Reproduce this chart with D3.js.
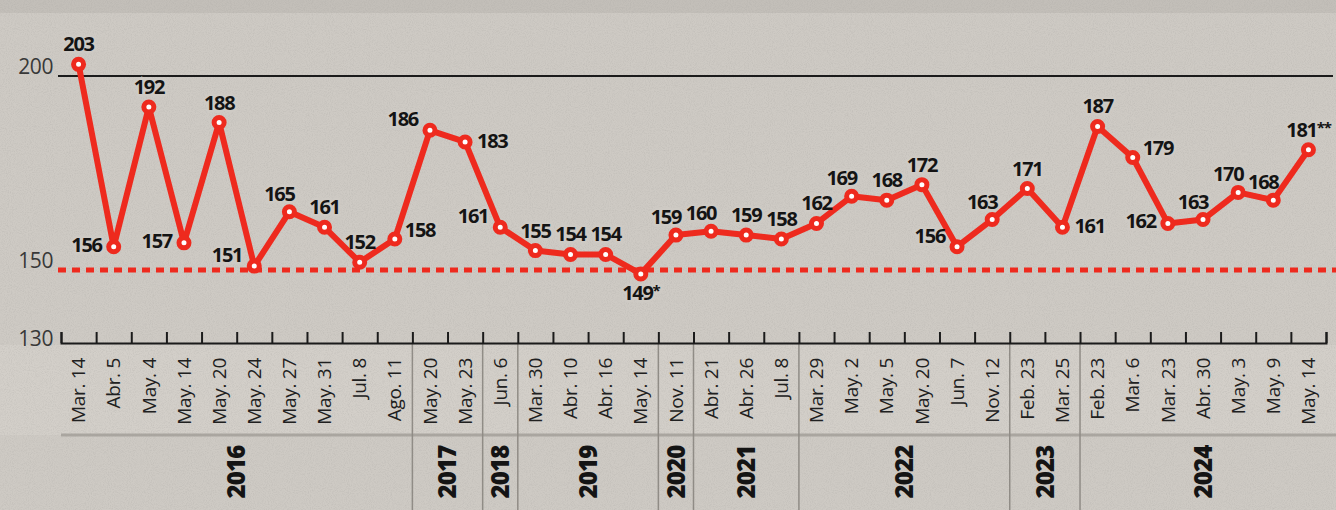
<!DOCTYPE html>
<meta charset="utf-8">
<style>
body { margin: 0; background: #cecac4; }
svg { display: block; }
.val { font-family: "Open Sans"; font-weight: 700; font-size: 20px; letter-spacing: -1.3px; fill: #141414; }
.halo { font-family: "Open Sans"; font-weight: 700; font-size: 20px; letter-spacing: -1.3px; fill: none; stroke: #cecac4; stroke-width: 5px; }
.date { font-family: "Open Sans"; font-size: 19px; letter-spacing: -0.3px; fill: #202020; }
.year { font-family: "Open Sans"; font-weight: 800; font-size: 24px; letter-spacing: -0.8px; fill: #141414; }
.ytick { font-family: "Open Sans"; font-size: 21px; fill: #383838; letter-spacing: -0.4px; }
</style>
<svg width="1336" height="510"></svg>
<script src="https://d3js.org/d3.v7.min.js"></script>
<script>

var dates = ["Mar. 14", "Abr. 5", "May. 4", "May. 14", "May. 20", "May. 24", "May. 27", "May. 31", "Jul. 8", "Ago. 11",
             "May. 20", "May. 23",
             "Jun. 6",
             "Mar. 30", "Abr. 10", "Abr. 16", "May. 14",
             "Nov. 11",
             "Abr. 21", "Abr. 26", "Jul. 8",
             "Mar. 29", "May. 2", "May. 5", "May. 20", "Jun. 7", "Nov. 12",
             "Feb. 23", "Mar. 25",
             "Feb. 23", "Mar. 6", "Mar. 23", "Abr. 30", "May. 3", "May. 9", "May. 14"];

var years = ["2016", "2016", "2016", "2016", "2016", "2016", "2016", "2016", "2016", "2016",
             "2017", "2017",
             "2018",
             "2019", "2019", "2019", "2019",
             "2020",
             "2021", "2021", "2021",
             "2022", "2022", "2022", "2022", "2022", "2022",
             "2023", "2023",
             "2024", "2024", "2024", "2024", "2024", "2024", "2024"];

var values = [203, 156, 192, 157, 188, 151, 165, 161, 152, 158,
              186, 183,
              161,
              155, 154, 154, 149,
              159,
              160, 159, 158,
              162, 169, 168, 172, 156, 163,
              171, 161,
              187, 179, 162, 163, 170, 168, 181];

var notes = ["", "", "", "", "", "", "", "", "", "", "", "", "", "", "", "", "*", "", "",
             "", "", "", "", "", "", "", "", "", "", "", "", "", "", "", "", "**"];

// where each value label sits around its point
var labelAt = ["t", "l", "t", "l", "t", "lu", "tl", "t", "t", "ru",
               "lu", "r",
               "lu",
               "t", "t", "t", "b",
               "tl",
               "tl", "t", "t",
               "t", "tl", "t", "t", "lu", "tl",
               "t", "r",
               "t", "ru", "l", "tl", "tl", "tl", "t"];

var refLines = [200, 150];

var svg = d3.select("svg"),
    width = +svg.attr("width"),
    height = +svg.attr("height");

var axisY = 343, bandTop = 435, dateTop = 358, yearMid = 472;

var idx = d3.range(values.length);
var x = d3.scaleBand().domain(idx).range([61, 1326]);
var edge = d3.scaleLinear().domain([0, values.length]).range([61, 1326]);
var y = d3.scaleLinear().domain([150, 200]).range([270, 76]);
var cx = function(i) { return x(i) + x.bandwidth() / 2; };

// paper
var defs = svg.append("defs");
var f = defs.append("filter").attr("id", "grain").attr("x", 0).attr("y", 0).attr("width", 1).attr("height", 1);
f.append("feTurbulence").attr("type", "fractalNoise").attr("baseFrequency", "0.95").attr("numOctaves", 2).attr("seed", 4);
f.append("feColorMatrix").attr("values", "0 0 0 0 0.35  0 0 0 0 0.34  0 0 0 0 0.32  0.5 0 0 0 -0.2");

svg.append("rect").attr("width", width).attr("height", height).attr("fill", "#cecac4");
svg.append("rect").attr("width", width).attr("height", 13).attr("fill", "#c3bfb9");
svg.append("rect").attr("x", 0).attr("y", axisY + 2).attr("width", width).attr("height", bandTop - axisY - 2).attr("fill", "#d3cfc9");
svg.append("line").attr("x1", 61).attr("x2", width).attr("y1", bandTop).attr("y2", bandTop)
    .attr("stroke", "#aaa6a0").attr("stroke-width", 3);

// year separators
var groups = d3.groups(idx, function(i) { return years[i]; });
var seps = groups.slice(1).map(function(g) { return g[1][0]; });
svg.append("g").selectAll("line").data(seps).enter().append("line")
    .attr("x1", function(i) { return edge(i); })
    .attr("x2", function(i) { return edge(i); })
    .attr("y1", axisY).attr("y2", height)
    .attr("stroke", "#8f8b85").attr("stroke-width", 1.5);

svg.append("rect").attr("width", width).attr("height", height).attr("filter", "url(#grain)");

// reference lines
svg.append("line").attr("x1", 58).attr("x2", 1333)
    .attr("y1", y(refLines[0])).attr("y2", y(refLines[0]))
    .attr("stroke", "#1b1b1b").attr("stroke-width", 2);
svg.append("line").attr("x1", 58).attr("x2", width)
    .attr("y1", y(refLines[1])).attr("y2", y(refLines[1]))
    .attr("stroke", "#ee2a1e").attr("stroke-width", 5).attr("stroke-dasharray", "8,6");

svg.append("g").selectAll("text").data(refLines).enter().append("text")
    .attr("class", "ytick")
    .attr("x", 53).attr("y", function(d) { return y(d) - 2; })
    .attr("text-anchor", "end")
    .text(function(d) { return d; });

// bottom axis (broken at 130)
var axis = svg.append("g")
    .attr("transform", "translate(0," + axisY + ")")
    .call(d3.axisTop(edge).tickValues(d3.range(values.length + 1)).tickSize(11).tickSizeOuter(11).tickFormat(""));
axis.select(".domain").attr("stroke", "#1b1b1b").attr("stroke-width", 2);
axis.selectAll(".tick line").attr("stroke", "#1b1b1b").attr("stroke-width", 2);
svg.append("text").attr("class", "ytick").attr("x", 53).attr("y", axisY + 3).attr("text-anchor", "end").text("130");

// date labels
svg.append("g").selectAll("text").data(idx).enter().append("text")
    .attr("class", "date")
    .attr("transform", function(i) { return "translate(" + cx(i) + "," + dateTop + ") rotate(-90)"; })
    .attr("text-anchor", "end")
    .attr("dy", "0.35em")
    .text(function(i) { return dates[i]; });

// year labels
svg.append("g").selectAll("text").data(groups).enter().append("text")
    .attr("class", "year")
    .attr("transform", function(g) {
      var m = (edge(g[1][0]) + edge(g[1][g[1].length - 1] + 1)) / 2;
      return "translate(" + m + "," + yearMid + ") rotate(-90)";
    })
    .attr("text-anchor", "middle")
    .attr("dy", "0.36em")
    .text(function(g) { return g[0]; });

// value labels
var place = {
  t:  { dx: 0,   dy: -13, a: "middle" },
  tl: { dx: -10, dy: -11, a: "middle" },
  l:  { dx: -12, dy: 5,   a: "end" },
  lu: { dx: -12, dy: -4,  a: "end" },
  r:  { dx: 12,  dy: 6,   a: "start" },
  ru: { dx: 10,  dy: -2,  a: "start" },
  b:  { dx: 0,   dy: 26,  a: "middle" }
};

function drawLabels(cls) {
  var t = svg.append("g").selectAll("text").data(idx).enter().append("text")
      .attr("class", cls)
      .attr("x", function(i) { return cx(i) + place[labelAt[i]].dx; })
      .attr("y", function(i) { return y(values[i]) + place[labelAt[i]].dy; })
      .attr("text-anchor", function(i) { return place[labelAt[i]].a; });
  t.append("tspan").text(function(i) { return values[i]; });
  t.append("tspan")
      .attr("font-size", "15px")
      .attr("dy", "-4")
      .text(function(i) { return notes[i]; });
}

drawLabels("halo");

// the line
var line = d3.line()
    .x(function(i) { return cx(i); })
    .y(function(i) { return y(values[i]); });

svg.append("path").datum(idx)
    .attr("d", line)
    .attr("fill", "none")
    .attr("stroke", "#ee2a1e")
    .attr("stroke-width", 6)
    .attr("stroke-linejoin", "round");

svg.append("g").selectAll("circle").data(idx).enter().append("circle")
    .attr("cx", function(i) { return cx(i); })
    .attr("cy", function(i) { return y(values[i]); })
    .attr("r", 5)
    .attr("fill", "#fff")
    .attr("stroke", "#ee2a1e")
    .attr("stroke-width", 5);

drawLabels("val");

</script>
